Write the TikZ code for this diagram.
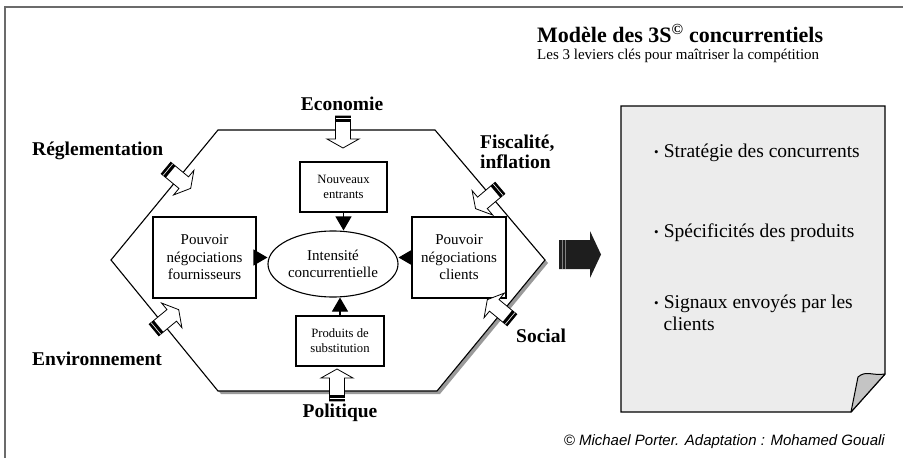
\documentclass[tikz,border=0pt]{standalone}
\usepackage{fontspec}
\setmainfont{Liberation Serif}
\newfontfamily\arialfont{Liberation Sans}
\usetikzlibrary{arrows.meta,shapes.geometric,positioning}

\definecolor{framegray}{HTML}{6B6B6B}
\definecolor{shadowgray}{HTML}{9A9A9A}
\definecolor{notefill}{HTML}{ECECEC}
\definecolor{curlgray}{HTML}{C4C4C4}
\definecolor{bigarrow}{HTML}{1E1E1E}

\newcommand\notebullet{{\fontsize{13}{13}\selectfont\raisebox{0.15ex}{•}}}

\tikzset{
  box/.style={draw, line width=1.1pt, align=center, inner sep=1pt},
  force label/.style={font=\fontsize{19.5}{20}\selectfont\bfseries, anchor=base west, inner sep=0pt},
  note text/.style={font=\fontsize{19.5}{22}\selectfont, anchor=base west, inner sep=0pt},
  push/.style={-{Triangle[length=14pt,width=16pt]}, line width=1.1pt},
  force/.pic={
    \draw[fill=white, line width=0.8pt, line join=miter]
      (0,-7.5) -- (23,-7.5) -- (23,-16) -- (32,0) -- (23,16) -- (23,7.5) -- (0,7.5) -- cycle;
    \fill[black] (0,-7.5) rectangle (6,7.5);
    \draw[white, line width=0.6pt] (2.5,-7.5) -- (2.5,7.5);
  },
}

\begin{document}
\begin{tikzpicture}[x=1pt,y=-1pt]
\useasboundingbox (0,0) rectangle (903,458);
\draw[framegray, line width=2pt] (5,458) -- (5,7) -- (903,7);

% titre
\node[anchor=base west, inner sep=0pt, font=\fontsize{22}{24}\selectfont\bfseries] (title) at (537,42) {Modèle des 3S\textsuperscript{©} concurrentiels};
\node[anchor=base west, inner sep=0pt, font=\fontsize{15}{16}\selectfont] (subtitle) at (537,59) {Les 3 leviers clés pour maîtriser la compétition};

% hexagone
\fill[shadowgray, shift={(3,3)}] (218,130) -- (435,130) -- (545,260) -- (437,391) -- (218,391) -- (111,260) -- cycle;
\draw[fill=white, line width=1.1pt] (218,130) -- (435,130) -- (545,260) -- (437,391) -- (218,391) -- (111,260) -- cycle;

\node[box, minimum width=87, minimum height=50, font=\fontsize{12.7}{15}\selectfont] (entrants) at (343.5,187) {Nouveaux\\entrants};
\node[draw, ellipse, line width=1.1pt, minimum width=130, minimum height=66, inner sep=0pt, align=center, font=\fontsize{15}{17.5}\selectfont] (intensite) at (333,264) {Intensité\\concurrentielle};
\node[box, minimum width=103, minimum height=81, font=\fontsize{15}{17.5}\selectfont] (fournisseurs) at (204.5,257.5) {Pouvoir\\négociations\\fournisseurs};
\node[box, minimum width=94, minimum height=81, font=\fontsize{15}{17.5}\selectfont] (clients) at (459,257.5) {Pouvoir\\négociations\\clients};
\node[box, minimum width=88, minimum height=50, font=\fontsize{12.7}{15}\selectfont] (substitution) at (340,341) {Produits de\\substitution};

\draw[push] (entrants.south) -- (entrants.south |- intensite.north);
\draw[push] (substitution.north) -- (substitution.north |- intensite.south);
\draw[push] (fournisseurs.east) -- (fournisseurs.east -| intensite.west);
\draw[push] (clients.west) -- (clients.west -| intensite.east);

% forces externes
\pic[rotate=-90] at (343,116) {force};
\pic[rotate=90] at (337,401) {force};
\pic[rotate=-39.5] at (166,168) {force};
\pic[rotate=39.5] at (154,330) {force};
\pic[rotate=-139.8] at (500,188) {force};
\pic[rotate=140.5] at (512,320) {force};

\node[force label] (reglementation) at (32,155) {Réglementation};
\node[force label] (environnement) at (32,365) {Environnement};
\node[force label, anchor=base] (economie) at (342,110) {Economie};
\node[force label, anchor=base] (politique) at (340,417) {Politique};
\node[force label, anchor=north west, align=left] (fiscalite) at (480,134.5) {Fiscalité,\\inflation};
\node[force label] (social) at (516,342) {Social};

% fleche vers les 3S
\fill[bigarrow] (559,240) -- (590,240) -- (590,231) -- (601,254.5) -- (590,278) -- (590,269) -- (559,269) -- cycle;
\draw[gray, line width=0.5pt] (562,240) -- (562,269);
\draw[gray, line width=0.5pt] (565,240) -- (565,269);

% les 3S
\draw[fill=notefill, line width=1.3pt] (621,106) -- (885,106) -- (885,374) -- (851,412) -- (621,412) -- cycle;
\draw[fill=curlgray, line width=1pt, line join=round] (885,374) .. controls (872,376) and (866,370) .. (858,377) -- (851,412) -- cycle;

\node[note text] (strategie) at (654,157) {\notebullet\hspace{5pt}Stratégie des concurrents};
\node[note text] (specificites) at (654,237) {\notebullet\hspace{5pt}Spécificités des produits};
\node[note text, anchor=north west, align=left] (signaux) at (654,294.5) {\notebullet\hspace{5pt}Signaux envoyés par les\\\hspace{9.5pt}clients};

\node[anchor=base east, inner sep=0pt, font=\arialfont\itshape\fontsize{15}{16}\selectfont] (credit) at (885,445) {© Michael Porter. Adaptation : Mohamed Gouali};
\end{tikzpicture}
\end{document}
